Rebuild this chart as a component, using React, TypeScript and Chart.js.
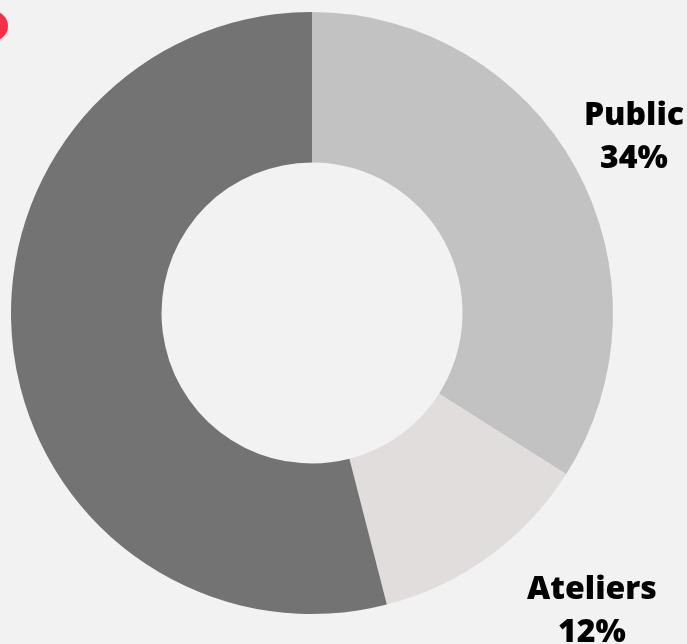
import React, { useEffect, useRef } from "react";
import { Chart, registerables } from "chart.js";

Chart.register(...registerables);

const categories = ["Public", "Ateliers", "Autres"];
const values = [34, 12, 54];
const colors = ["#c2c2c2", "#e2dddd", "#737373"];
const labelTexts = [["Public", "34%"], ["Ateliers", "12%"]];

const labelPlugin = {
  id: "sliceLabels",
  afterDraw(chart: any) {
    const ctx = chart.ctx;
    const meta = chart.getDatasetMeta(0);
    const arc = meta.data[0];
    const cx = arc.x;
    const cy = arc.y;
    const offsets = [
      [322, -188],
      [280, 286],
    ];
    ctx.save();
    ctx.fillStyle = "#000";
    ctx.textAlign = "center";
    ctx.textBaseline = "alphabetic";
    ctx.font = "800 32px 'Open Sans'";
    labelTexts.forEach((lines, i) => {
      const [dx, dy] = offsets[i];
      lines.forEach((t, j) => {
        ctx.fillText(t, cx + dx, cy + dy + j * 43);
      });
    });
    ctx.restore();
  },
};

export default function App() {
  const ref = useRef<HTMLCanvasElement>(null);
  useEffect(() => {
    const chart = new Chart(ref.current!, {
      type: "doughnut",
      data: {
        labels: categories,
        datasets: [
          {
            data: values,
            backgroundColor: colors,
            borderWidth: 0,
          },
        ],
      },
      options: {
        responsive: false,
        animation: false,
        cutout: "50%",
        layout: { padding: { left: 11, top: 12, right: 74, bottom: 30 } },
        plugins: { legend: { display: false }, tooltip: { enabled: false } },
      },
      plugins: [labelPlugin],
    });
    return () => chart.destroy();
  }, []);
  return (
    <div
      style={{
        position: "fixed",
        left: 0,
        top: 0,
        width: 687,
        height: 644,
        background: "#f2f2f2",
        overflow: "hidden",
      }}
    >
      <div
        style={{
          position: "absolute",
          left: -22,
          top: 11,
          width: 30,
          height: 30,
          borderRadius: "50%",
          background: "#f23048",
        }}
      />
      <canvas ref={ref} width={687} height={644} style={{ position: "absolute", left: 0, top: 0 }} />
    </div>
  );
}
